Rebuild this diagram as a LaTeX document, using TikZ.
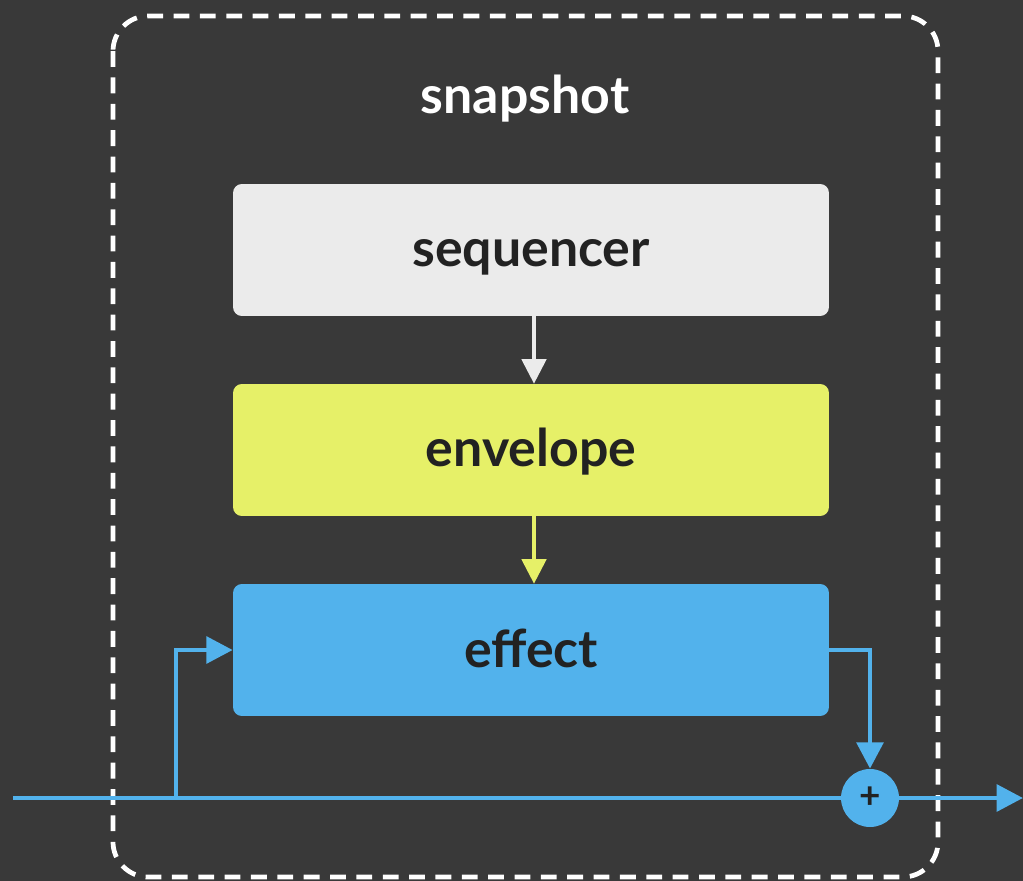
\documentclass[tikz,border=0pt]{standalone}
\usepackage{fontspec}
\setmainfont{Lato}
\usetikzlibrary{arrows.meta}
\usetikzlibrary{positioning}

\definecolor{bgdark}{HTML}{393939}
\definecolor{seqgray}{HTML}{EBEBEB}
\definecolor{envyellow}{HTML}{E6F068}
\definecolor{fxblue}{HTML}{52B2EC}
\definecolor{inkdark}{HTML}{222222}

\begin{document}
\begin{tikzpicture}[x=0.02cm, y=-0.02cm,
  block/.style={rounded corners=5pt, minimum width=11.92cm, minimum height=2.64cm,
    inner sep=0pt, text height=0.8cm, text depth=0.12cm,
    font=\fontsize{29.5}{34}\selectfont\bfseries, text=inkdark},
  flow/.style={line width=1.8pt, -{Triangle[length=14pt,width=14pt]}},
  signal/.style={fxblue, line width=2.8pt}]

  \fill[bgdark] (0,0) rectangle (1023,881);
  \useasboundingbox (0,0) rectangle (1023,881);

  % snapshot frame
  \draw[white, line width=2.7pt, dash pattern=on 9pt off 6pt, rounded corners=20pt]
    (113,16) rectangle (938,877);
  \node[text=white, font=\fontsize{29.5}{34}\selectfont\bfseries] (title) at (525,99) {snapshot};

  % blocks
  \node[block, fill=seqgray] (seq) at (531,250) {sequencer};
  \node[block, fill=envyellow] (env) at (531,450) {envelope};
  \node[block, fill=fxblue] (fx) at (531,650) {effect};

  \draw[flow, seqgray] ([xshift=0.06cm]seq.south) -- ([xshift=0.06cm]env.north);
  \draw[flow, envyellow] ([xshift=0.06cm]env.south) -- ([xshift=0.06cm]fx.north);

  % signal path
  \node[circle, fill=fxblue, minimum size=1.16cm, inner sep=0pt, text=inkdark,
    font=\fontsize{21}{21}\selectfont\bfseries] (sum) at (870,798) {+};
  \coordinate (src) at (13,798);
  \coordinate (tap) at (176,798);
  \coordinate (dst) at (1023,798);

  \draw[signal] (src) -- (sum);
  \draw[signal, -{Triangle[length=15pt,width=15pt]}] (tap) |- (fx.west);
  \draw[signal, -{Triangle[length=15pt,width=15pt]}] (fx.east) -| (sum.north);
  \draw[signal, -{Triangle[length=15pt,width=15pt]}] (sum) -- (dst);
\end{tikzpicture}
\end{document}
